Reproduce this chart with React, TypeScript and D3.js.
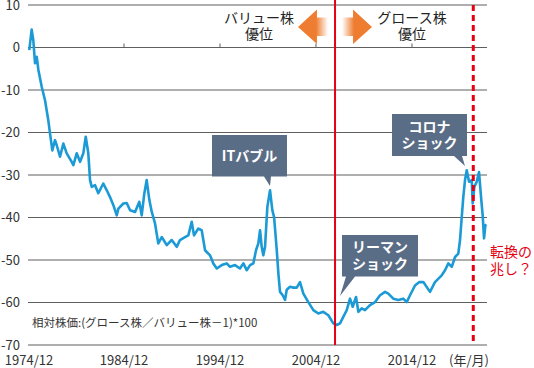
import React, { useRef, useEffect } from 'react';
import * as d3 from 'd3';

const width = 534;
const height = 368;
const margin = { top: 5, right: 47, bottom: 23, left: 28 };
const font = "'Noto Sans CJK JP', 'Noto Sans', sans-serif";

// relative price, (growth / value - 1) * 100
const dates = [
  1975.05, 1975.3, 1975.47, 1975.65, 1975.83, 1976.0, 1976.35, 1976.69, 1977.03, 1977.21,
  1977.45, 1977.73, 1977.91, 1978.25, 1978.6, 1978.95, 1979.47, 1979.64, 1979.99, 1980.34,
  1980.68, 1980.93, 1981.2, 1981.38, 1981.56, 1981.9, 1982.24, 1982.76, 1983.12, 1983.46,
  1983.81, 1984.16, 1984.33, 1984.85, 1985.2, 1985.55, 1986.07, 1986.51, 1986.76, 1987.03,
  1987.28, 1987.56, 1987.81, 1988.15, 1988.49, 1988.85, 1989.37, 1989.89, 1990.41, 1990.75,
  1991.27, 1991.62, 1991.97, 1992.21, 1992.66, 1993.01, 1993.36, 1993.88, 1994.22, 1994.58,
  1995.1, 1995.62, 1995.96, 1996.48, 1997.0, 1997.35, 1997.7, 1998.05, 1998.39, 1998.67,
  1998.91, 1999.09, 1999.26, 1999.43, 1999.61, 1999.85, 2000.13, 2000.37, 2000.55, 2000.65,
  2000.83, 2001.0, 2001.17, 2001.45, 2001.69, 2001.87, 2002.21, 2002.56, 2002.91, 2003.25,
  2003.6, 2004.12, 2004.64, 2005.16, 2005.68, 2006.2, 2006.72, 2007.08, 2007.42, 2007.76,
  2008.12, 2008.46, 2008.74, 2009.09, 2009.33, 2009.68, 2010.02, 2010.54, 2011.07, 2011.59,
  2012.11, 2012.45, 2012.97, 2013.49, 2014.01, 2014.37, 2014.71, 2015.23, 2015.68, 2016.1,
  2016.79, 2017.31, 2018.01, 2018.36, 2018.7, 2019.06, 2019.4, 2019.74, 2019.92, 2020.1,
  2020.26, 2020.44, 2020.62, 2020.86, 2021.14, 2021.24, 2021.41, 2021.66, 2021.9, 2022.11,
  2022.28, 2022.42, 2022.56, 2022.63,
];
const values = [
  -0.6, 4.2, 1.7, -3.7, -2.2, -5.3, -9.3, -12.4, -17.1, -20.2,
  -24.2, -21.8, -23.0, -25.7, -22.6, -24.9, -26.9, -27.7, -24.9, -26.9,
  -24.9, -21.0, -24.9, -31.2, -32.8, -32.4, -34.3, -32.0, -33.6, -35.2,
  -37.1, -39.5, -37.9, -36.7, -36.6, -38.3, -38.7, -36.3, -39.5, -34.4,
  -31.2, -35.9, -38.7, -41.4, -46.1, -44.6, -46.5, -45.3, -46.9, -45.3,
  -44.6, -44.2, -41.0, -44.2, -42.6, -43.0, -47.7, -48.9, -50.8, -52.0,
  -51.2, -50.8, -51.6, -51.2, -52.0, -50.8, -52.4, -51.2, -50.8, -47.7,
  -46.1, -43.0, -46.9, -48.9, -46.9, -37.5, -33.6, -38.3, -39.9, -42.6,
  -47.7, -53.2, -57.5, -58.3, -59.4, -57.0, -56.3, -56.5, -56.5, -55.2,
  -57.9, -59.9, -61.8, -62.6, -62.2, -63.0, -64.9, -65.3, -64.9, -63.4,
  -61.8, -59.1, -61.0, -58.7, -62.2, -61.4, -61.8, -60.6, -59.9, -58.3,
  -57.5, -57.9, -59.1, -59.4, -59.1, -59.9, -58.3, -56.0, -55.2, -55.2,
  -57.5, -55.2, -53.6, -52.4, -50.8, -51.6, -49.3, -48.5, -45.3, -39.9,
  -35.2, -31.2, -28.9, -31.6, -31.2, -36.7, -32.8, -31.6, -29.3, -35.2,
  -39.5, -44.9, -41.8, -42.2,
];

const yTicks = [10, 0, -10, -20, -30, -40, -50, -60, -70];
const xTicks = [1974.917, 1984.917, 1994.917, 2004.917, 2014.917];
const xTickLabels = ['1974/12', '1984/12', '1994/12', '2004/12', '2014/12'];
const lehmanDate = 2006.9;
const turnDate = 2021.3;

const App: React.FC = () => {
  const ref = useRef<SVGSVGElement>(null);

  useEffect(() => {
    const svg = d3.select(ref.current);
    svg.selectAll('*').remove();

    const x = d3
      .scaleLinear()
      .domain([1974.917, 2022.73])
      .range([margin.left, width - margin.right]);
    const y = d3
      .scaleLinear()
      .domain([-70, 10])
      .range([height - margin.bottom, margin.top]);

    const defs = svg.append('defs');
    const gl = defs
      .append('linearGradient')
      .attr('id', 'fadeL')
      .attr('gradientUnits', 'userSpaceOnUse')
      .attr('x1', 316)
      .attr('x2', 328);
    gl.append('stop').attr('offset', 0).attr('stop-color', '#ee7d31');
    gl.append('stop').attr('offset', 1).attr('stop-color', '#ee7d31').attr('stop-opacity', 0);
    const gr = defs
      .append('linearGradient')
      .attr('id', 'fadeR')
      .attr('gradientUnits', 'userSpaceOnUse')
      .attr('x1', 354)
      .attr('x2', 342);
    gr.append('stop').attr('offset', 0).attr('stop-color', '#ee7d31');
    gr.append('stop').attr('offset', 1).attr('stop-color', '#ee7d31').attr('stop-opacity', 0);

    /** grid + y labels */
    const grid = svg.append('g');
    grid
      .selectAll('line')
      .data(yTicks)
      .join('line')
      .attr('x1', x.range()[0])
      .attr('x2', x.range()[1])
      .attr('y1', (d) => y(d))
      .attr('y2', (d) => y(d))
      .attr('stroke', '#5f5f5f')
      .attr('stroke-width', 1);
    grid
      .selectAll('text')
      .data(yTicks)
      .join('text')
      .attr('x', 20)
      .attr('y', (d) => y(d))
      .attr('dy', '0.35em')
      .attr('text-anchor', 'end')
      .attr('font-family', font)
      .attr('font-size', 13)
      .attr('fill', '#333')
      .text((d) => d);

    /** x ticks on the zero line */
    svg
      .append('g')
      .selectAll('line')
      .data(xTicks.slice(1))
      .join('line')
      .attr('x1', (d) => x(d))
      .attr('x2', (d) => x(d))
      .attr('y1', y(0))
      .attr('y2', y(0) - 4)
      .attr('stroke', '#5f5f5f');
    svg
      .append('g')
      .selectAll('text')
      .data(xTicks)
      .join('text')
      .attr('x', (d, i) => (i === 0 ? x(d) + 1 : x(d)))
      .attr('y', 365)
      .attr('text-anchor', 'middle')
      .attr('font-family', font)
      .attr('font-size', 13)
      .attr('fill', '#333')
      .text((d, i) => xTickLabels[i]);
    svg
      .append('text')
      .attr('x', 469)
      .attr('y', 365)
      .attr('text-anchor', 'middle')
      .attr('font-family', font)
      .attr('font-size', 13)
      .attr('fill', '#333')
      .text('(年/月)');

    svg
      .append('text')
      .attr('x', 32)
      .attr('y', 327)
      .attr('font-family', font)
      .attr('font-size', 11.5)
      .attr('fill', '#333')
      .text('相対株価:(グロース株／バリュー株－1)*100');

    /** series */
    const line = d3
      .line<number>()
      .x((d, i) => x(dates[i]))
      .y((d) => y(d));
    svg
      .append('path')
      .datum(values)
      .attr('d', line)
      .attr('fill', 'none')
      .attr('stroke', '#1b9ad6')
      .attr('stroke-width', 2.6)
      .attr('stroke-linejoin', 'round');

    /** marker lines */
    svg
      .append('line')
      .attr('x1', x(lehmanDate))
      .attr('x2', x(lehmanDate))
      .attr('y1', 0)
      .attr('y2', y(-70))
      .attr('stroke', '#e60012')
      .attr('stroke-width', 2);
    svg
      .append('line')
      .attr('x1', x(turnDate))
      .attr('x2', x(turnDate))
      .attr('y1', y(10))
      .attr('y2', y(-70))
      .attr('stroke', '#e60012')
      .attr('stroke-width', 3)
      .attr('stroke-dasharray', '6 4');

    /** arrows */
    svg
      .append('path')
      .attr('d', 'M298,27 L317,9.5 L317,17.5 L328,17.5 L328,36 L317,36 L317,44 Z')
      .attr('fill', 'url(#fadeL)');
    svg
      .append('path')
      .attr('d', 'M372,27 L353,9.5 L353,17.5 L342,17.5 L342,36 L353,36 L353,44 Z')
      .attr('fill', 'url(#fadeR)');

    const header = (cx: number, lines: string[]) => {
      svg
        .append('g')
        .selectAll('text')
        .data(lines)
        .join('text')
        .attr('x', cx)
        .attr('y', (d, i) => 18 + i * 16.5)
        .attr('dy', '0.35em')
        .attr('text-anchor', 'middle')
        .attr('font-family', font)
        .attr('font-size', 14)
        .attr('fill', '#222')
        .text((d) => d);
    };
    header(259, ['バリュー株', '優位']);
    header(412, ['グロース株', '優位']);

    /** callouts */
    const callout = (
      box: [number, number, number, number],
      ptr: [number, number, number, number],
      lines: string[],
    ) => {
      const [x0, y0, x1, y1] = box;
      const [bx0, bx1, tx, ty] = ptr;
      const p = d3.path();
      p.moveTo(x0, y0);
      p.lineTo(x1, y0);
      p.lineTo(x1, y1);
      p.lineTo(bx1, y1);
      p.lineTo(tx, ty);
      p.lineTo(bx0, y1);
      p.lineTo(x0, y1);
      p.closePath();
      const g = svg.append('g');
      g.append('path').attr('d', p.toString()).attr('fill', '#5a6d86');
      const cy = (y0 + y1) / 2;
      g.selectAll('text')
        .data(lines)
        .join('text')
        .attr('x', (x0 + x1) / 2)
        .attr('y', (d, i) => cy + (i - (lines.length - 1) / 2) * 16.5)
        .attr('dy', '0.35em')
        .attr('text-anchor', 'middle')
        .attr('font-family', font)
        .attr('font-size', 14)
        .attr('font-weight', 'bold')
        .attr('fill', '#fff')
        .text((d) => d);
    };
    callout([212, 135, 287, 176.5], [264, 271, 270, 186], ['ITバブル']);
    callout([342, 235, 418, 276.5], [346, 355, 340, 296], ['リーマン', 'ショック']);
    callout([392, 114, 467, 156], [454, 462, 465, 166], ['コロナ', 'ショック']);

    /** turning point note */
    svg
      .append('g')
      .selectAll('text')
      .data(['転換の', '兆し？'])
      .join('text')
      .attr('x', 490)
      .attr('y', (d, i) => 252 + i * 17)
      .attr('dy', '0.35em')
      .attr('font-family', font)
      .attr('font-size', 14)
      .attr('fill', '#e60012')
      .text((d) => d);
  }, []);

  return (
    <svg
      ref={ref}
      width={width}
      height={height}
      style={{ position: 'absolute', left: 0, top: 0, background: '#fff' }}
    />
  );
};

export default App;
